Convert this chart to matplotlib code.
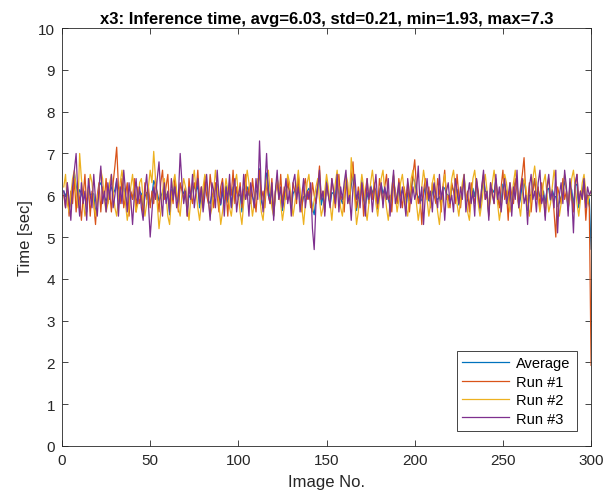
import numpy as np
import matplotlib
matplotlib.use('Agg')
from matplotlib import pyplot as plt

plt.rcParams['font.family'] = ['Liberation Sans', 'DejaVu Sans']

# inference time per image [sec]
run1 = [6.0, 5.7, 6.3, 5.5, 6.1, 5.8, 6.4, 5.6, 6.2, 5.9, 5.4, 6.0, 6.5, 5.7, 6.2, 5.5, 6.1, 5.8, 5.3, 6.0, 6.3, 5.6, 6.2, 5.9, 6.4,
        5.8, 6.1, 5.6, 6.3, 6.7, 7.15, 6.2, 5.8, 6.4, 5.7, 6.0, 6.3, 5.5, 6.1, 5.9, 6.4, 5.6, 6.2, 5.8, 6.0, 5.5, 6.3, 5.9, 6.2, 5.7,
        6.1, 5.8, 6.4, 6.0, 5.6, 6.3, 6.6, 5.9, 6.2, 6.5, 5.7, 6.1, 5.8, 6.4, 6.0, 5.6, 6.3, 6.1, 5.9, 6.2, 5.5, 6.4, 6.0, 5.8, 6.3,
        6.1, 6.6, 5.9, 6.2, 5.7, 6.4, 6.0, 5.8, 6.5, 6.1, 5.7, 6.3, 6.0, 5.6, 6.2, 6.4, 5.9, 6.1, 5.5, 6.3, 6.0, 6.6, 5.8, 6.2, 5.9,
        6.3, 5.7, 6.1, 6.5, 5.9, 6.2, 5.8, 6.4, 6.0, 5.6, 6.2, 6.6, 5.9, 6.1, 5.7, 6.3, 6.0, 5.8, 6.4, 5.6, 6.1, 6.3, 5.9, 6.5, 5.8,
        6.2, 5.9, 6.4, 6.0, 5.7, 6.3, 6.1, 5.8, 6.5, 6.0, 5.6, 6.2, 6.4, 5.9, 6.1, 5.7, 6.3, 6.0, 5.8, 6.2, 6.7, 5.9, 6.1, 5.6, 6.3,
        6.0, 5.8, 6.4, 6.1, 5.7, 6.2, 6.5, 5.9, 6.0, 5.6, 6.3, 6.1, 5.8, 6.4, 6.8, 6.0, 5.7, 6.2, 5.9, 6.3, 5.5, 6.1, 6.4, 5.8, 6.2,
        5.9, 6.3, 6.0, 5.7, 6.4, 6.1, 5.8, 6.2, 6.5, 5.9, 6.0, 5.6, 6.3, 6.1, 5.8, 6.4, 6.0, 5.7, 6.2, 5.9, 6.3, 5.6, 6.1, 6.5, 6.85,
        6.2, 5.8, 6.0, 5.3, 6.1, 6.4, 5.9, 6.2, 5.7, 6.3, 6.0, 5.8, 6.4, 6.1, 5.6, 6.2, 6.6, 5.9, 6.0, 5.7, 6.3, 6.1, 5.8, 6.5, 6.0,
        5.7, 6.2, 6.4, 5.9, 6.1, 5.6, 6.3, 6.0, 5.8, 6.4, 6.1, 5.7, 6.2, 6.5, 5.9, 6.0, 5.5, 6.3, 6.1, 5.8, 6.4, 6.0, 5.7, 6.2, 6.6,
        5.9, 6.1, 5.4, 6.3, 6.0, 5.8, 6.4, 6.1, 5.7, 6.2, 6.5, 6.9, 6.0, 5.8, 6.3, 5.6, 6.1, 6.4, 5.9, 6.2, 5.7, 6.3, 6.0, 5.5, 6.2,
        6.4, 5.9, 6.1, 5.6, 5.0, 6.2, 6.0, 5.8, 6.4, 5.9, 6.1, 5.7, 6.3, 6.0, 5.6, 6.2, 6.5, 5.8, 6.1, 5.9, 6.3, 5.4, 6.0, 5.7, 1.93]

run2 = [6.2, 6.5, 5.8, 5.6, 6.0, 6.4, 6.6, 6.1, 5.7, 7.0, 6.4, 5.9, 5.5, 5.7, 6.1, 6.5, 6.3, 5.8, 5.5, 5.9, 6.2, 6.6, 6.4, 5.9, 5.6,
        5.8, 6.3, 6.5, 6.1, 5.7, 5.5, 5.9, 6.3, 6.6, 6.2, 5.8, 5.4, 5.7, 6.2, 6.5, 6.0, 5.6, 5.8, 6.3, 6.4, 5.9, 5.5, 5.8, 6.2, 6.6,
        6.3, 7.05, 6.4, 5.8, 5.2, 5.6, 6.1, 6.4, 6.0, 5.5, 5.3, 5.9, 6.3, 6.5, 6.1, 5.7, 5.5, 6.0, 6.4, 6.2, 5.8, 5.4, 5.9, 6.3, 6.6,
        6.1, 5.7, 5.4, 5.8, 6.2, 6.5, 6.3, 5.9, 5.5, 5.7, 6.1, 6.6, 6.2, 5.8, 5.3, 5.6, 6.0, 6.4, 6.1, 5.7, 5.5, 5.9, 6.3, 6.5, 6.0,
        5.6, 5.3, 5.8, 6.2, 6.6, 6.3, 5.9, 5.5, 5.8, 6.2, 6.4, 6.0, 5.6, 5.4, 5.9, 6.3, 6.6, 6.1, 5.7, 5.5, 6.0, 6.4, 6.2, 5.8, 5.4,
        5.7, 6.1, 6.5, 6.3, 5.9, 5.5, 5.8, 6.2, 6.6, 6.1, 5.7, 5.3, 5.8, 6.3, 6.5, 6.0, 5.6, 5.9, 6.2, 6.4, 5.9, 5.5, 5.7, 6.1, 6.5,
        6.2, 5.8, 5.4, 5.9, 6.3, 6.6, 6.1, 5.7, 5.5, 6.0, 6.5, 6.3, 5.8, 6.9, 6.4, 5.9, 5.3, 5.6, 6.1, 6.5, 6.2, 5.7, 5.4, 5.8, 6.3,
        6.6, 6.2, 5.8, 5.5, 5.9, 6.4, 6.6, 6.1, 5.7, 5.4, 5.8, 6.2, 6.5, 6.0, 5.6, 5.9, 6.3, 6.5, 6.1, 5.7, 5.5, 6.0, 6.4, 6.6, 6.2,
        5.8, 5.4, 5.7, 6.2, 6.6, 6.3, 5.9, 5.5, 5.8, 6.3, 6.5, 6.0, 5.6, 5.3, 5.8, 6.2, 6.5, 6.1, 5.7, 5.9, 6.4, 6.6, 6.2, 5.8, 5.5,
        5.9, 6.3, 6.5, 6.0, 5.6, 5.4, 5.9, 6.4, 6.6, 6.2, 5.8, 5.5, 5.8, 6.2, 6.5, 6.1, 5.7, 5.9, 6.3, 6.6, 6.2, 5.8, 5.4, 5.7, 6.1,
        6.5, 6.3, 5.9, 5.6, 5.9, 6.3, 6.6, 6.2, 5.8, 5.5, 6.0, 6.4, 6.2, 5.8, 5.5, 5.9, 6.4, 6.7, 6.3, 5.9, 5.6, 5.9, 6.3, 6.5, 6.0,
        5.6, 5.8, 6.2, 6.6, 6.3, 5.9, 5.5, 5.8, 6.2, 6.5, 6.1, 5.7, 5.9, 6.4, 6.6, 6.2, 5.8, 5.5, 5.9, 6.3, 6.5, 6.1, 5.8, 6.0, 6.1]

run3 = [6.1, 5.7, 6.3, 5.9, 5.4, 6.2, 6.6, 7.0, 6.0, 5.5, 6.3, 5.8, 6.1, 5.4, 6.4, 6.0, 5.7, 6.5, 5.9, 5.5, 6.2, 6.7, 5.8, 6.1, 5.6,
        6.3, 5.9, 6.5, 5.7, 6.0, 6.4, 5.5, 6.2, 5.8, 6.6, 6.1, 5.6, 6.3, 5.9, 5.3, 6.0, 6.4, 5.8, 6.2, 5.7, 5.4, 6.1, 6.5, 5.8, 5.0,
        5.6, 6.2, 5.9, 6.4, 6.8, 6.0, 5.5, 6.3, 5.8, 6.1, 5.6, 6.4, 5.9, 6.2, 5.7, 6.0, 7.0, 6.3, 5.8, 6.1, 5.5, 6.2, 5.9, 6.5, 5.7,
        6.1, 6.4, 5.8, 6.2, 5.6, 6.0, 6.5, 5.9, 5.4, 6.3, 6.1, 5.7, 6.6, 6.0, 5.8, 6.3, 5.5, 6.2, 5.9, 6.5, 5.7, 6.1, 6.4, 5.6, 6.0,
        6.2, 5.8, 6.5, 5.9, 6.1, 5.5, 6.3, 6.0, 5.7, 6.4, 5.9, 7.3, 6.1, 5.6, 6.2, 7.0, 6.0, 5.8, 6.3, 5.4, 6.1, 6.6, 5.9, 6.2, 5.7,
        6.0, 6.4, 5.8, 6.1, 5.5, 6.3, 6.5, 5.9, 6.2, 5.6, 6.0, 6.4, 5.7, 6.1, 5.9, 6.3, 5.2, 4.7, 5.8, 6.2, 6.6, 5.9, 6.1, 5.5, 6.3,
        6.0, 5.7, 6.4, 6.1, 5.8, 6.5, 5.6, 6.2, 5.9, 6.3, 6.6, 5.8, 6.0, 5.4, 6.2, 6.5, 5.9, 6.1, 5.7, 6.3, 6.0, 5.5, 6.4, 5.9, 6.2,
        5.6, 6.1, 6.5, 5.8, 6.0, 6.3, 5.7, 6.2, 5.9, 6.4, 5.5, 6.1, 6.6, 5.8, 6.0, 6.3, 5.7, 6.2, 5.9, 5.5, 6.4, 6.0, 5.8, 6.2, 5.9,
        6.1, 6.7, 5.8, 6.2, 5.3, 6.0, 6.4, 5.9, 6.1, 5.6, 6.3, 6.0, 5.7, 6.5, 5.9, 6.2, 5.4, 6.1, 6.3, 5.8, 6.0, 5.6, 6.4, 6.1, 5.8,
        6.2, 5.9, 6.5, 5.6, 6.0, 6.3, 5.8, 6.1, 5.5, 6.4, 6.0, 5.7, 6.2, 6.6, 5.9, 6.1, 5.4, 6.3, 6.0, 5.8, 6.5, 5.9, 6.2, 5.6, 6.1,
        6.4, 5.8, 6.0, 6.3, 5.5, 6.2, 5.9, 6.6, 5.7, 6.1, 6.4, 5.8, 6.0, 5.3, 6.2, 6.5, 5.9, 6.1, 5.6, 6.3, 6.6, 5.8, 6.0, 5.4, 6.2,
        6.5, 5.9, 6.1, 5.7, 6.6, 5.1, 6.0, 6.3, 5.8, 6.6, 6.2, 5.5, 6.4, 6.0, 5.1, 6.3, 6.5, 5.8, 6.1, 5.9, 6.4, 5.7, 6.2, 6.0, 6.1]

labels = ['Average', 'Run #1', 'Run #2', 'Run #3']
colors = ['#0072BD', '#D95319', '#EDB120', '#7E2F8E']

runs = np.array([run1, run2, run3])
average = runs.mean(axis=0)
images = np.arange(1, runs.shape[1] + 1)

fig = plt.figure(figsize=(6.05, 5.02), dpi=100)
ax = fig.add_axes([0.1025, 0.1096, 0.8745, 0.8324])

ax.plot(images, average, color=colors[0], lw=0.9, label=labels[0])
for r, lab, c in zip(runs, labels[1:], colors[1:]):
    ax.plot(images, r, color=c, lw=0.9, label=lab)

ax.set_xlim(0, 300)
ax.set_ylim(0, 10)
ax.set_xticks(np.arange(0, 301, 50))
ax.set_yticks(np.arange(0, 11, 1))
ax.tick_params(direction='in', top=True, right=True, length=4, width=0.6,
               color='#262626', labelsize=11, labelcolor='#262626', pad=5)
for s in ax.spines.values():
    s.set_color('#262626')
    s.set_linewidth(0.6)

ax.set_xlabel('Image No.', fontsize=12, color='#262626', labelpad=5)
ax.set_ylabel('Time [sec]', fontsize=12, color='#262626', labelpad=4)
ax.set_title('x3: Inference time, avg=6.03, std=0.21, min=1.93, max=7.3',
             fontsize=12, fontweight='bold', pad=4)

leg = ax.legend(loc='lower right', fontsize=10.5, handlelength=3.2, labelspacing=0.3,
                fancybox=False, framealpha=1, edgecolor='#262626',
                borderaxespad=1.0, borderpad=0.4, handletextpad=0.5)
leg.get_frame().set_linewidth(0.6)

fig.savefig('out.png', dpi=100)
